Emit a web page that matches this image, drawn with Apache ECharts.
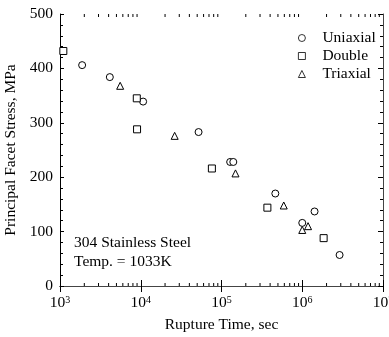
<!DOCTYPE html>
<html>
<head>
<meta charset="utf-8">
<script src="https://cdn.jsdelivr.net/npm/echarts@6/dist/echarts.min.js"></script>
<style>
  html, body { margin: 0; padding: 0; background: #fff; }
  #chart { width: 389px; height: 337px; }
</style>
</head>
<body>
<div id="chart"></div>
<script>
// rupture time (sec), principal facet stress (MPa)
var uniaxial = [[1880, 406], [4140, 384], [10700, 339], [52000, 283], [128000, 228], [140000, 228],
  [464000, 170], [1000000, 116], [1420000, 137], [2900000, 57]];
var doubleData = [[1100, 432], [8930, 345], [9000, 288], [76000, 216], [370000, 144], [1840000, 88]];
var triaxial = [[5560, 368], [26300, 276], [149000, 207], [590000, 148], [1180000, 110], [1000000, 103]];

var seriesNames = ['Uniaxial', 'Double', 'Triaxial'];
var symbols = ['circle', 'rect', 'triangle'];
var yTicks = [0, 100, 200, 300, 400, 500];

// minor ticks of the log axis: 2..9 x 10^k
var decades = [1000, 10000, 100000, 1000000];
var minorTicksX = [];
decades.forEach(function (d) {
  for (var m = 2; m <= 9; m++) minorTicksX.push([d * m, 0]);
});

var serif = "'Liberation Serif', 'Times New Roman', serif";

var chart = echarts.init(document.getElementById('chart'), null, { renderer: 'canvas' });

function logLabel(v) {
  var e = Math.round(Math.log10(v));
  return '{b|10}{s|' + e + '}';
}

var markSeries = [uniaxial, doubleData, triaxial].map(function (d, i) {
  return {
    name: seriesNames[i],
    type: 'scatter',
    data: d,
    symbol: symbols[i],
    symbolSize: 7,
    itemStyle: { color: '#fff', borderColor: '#000', borderWidth: 1, opacity: 1 },
    emphasis: { disabled: true },
    z: 5
  };
});

var option = {
  animation: false,
  backgroundColor: '#fff',
  textStyle: { fontFamily: serif, color: '#000' },
  grid: { left: 60, right: 6, top: 14, bottom: 51, outerBoundsMode: 'none', containLabel: false },
  legend: {
    data: seriesNames.map(function (n, i) {
      return { name: n, icon: symbols[i] };
    }),
    orient: 'vertical',
    left: 293,
    top: 25,
    itemWidth: 7,
    itemHeight: 7,
    itemGap: 2,
    selectedMode: false,
    itemStyle: { borderWidth: 0.8 },
    textStyle: { fontFamily: serif, fontSize: 15.5, color: '#000', padding: [0, 0, 0, 12] }
  },
  xAxis: [{
    type: 'log',
    logBase: 10,
    min: 1000,
    max: 10000000,
    name: 'Rupture Time, sec',
    nameLocation: 'middle',
    nameGap: 31,
    nameTextStyle: { fontFamily: serif, fontSize: 15.5, color: '#000' },
    axisLine: { lineStyle: { color: '#000', width: 1 } },
    axisTick: { inside: true, length: 6, lineStyle: { color: '#000' } },
    splitLine: { show: false },
    axisLabel: {
      formatter: logLabel,
      margin: 9,
      showMaxLabel: true,
      rich: {
        b: { fontFamily: serif, fontSize: 15.5, color: '#000' },
        s: { fontFamily: serif, fontSize: 10, color: '#000', verticalAlign: 'top' }
      }
    }
  }, {
    type: 'log',
    logBase: 10,
    min: 1000,
    max: 10000000,
    position: 'top',
    axisLine: { lineStyle: { color: '#444', width: 1 } },
    axisTick: { inside: true, length: 6, lineStyle: { color: '#000' } },
    axisLabel: { show: false },
    splitLine: { show: false }
  }],
  yAxis: [{
    type: 'value',
    min: 0,
    max: 500,
    interval: 100,
    name: 'Principal Facet Stress, MPa',
    nameLocation: 'middle',
    nameGap: 38,
    nameTextStyle: { fontFamily: serif, fontSize: 15.5, color: '#000' },
    axisLine: { show: true, lineStyle: { color: '#000', width: 1 } },
    axisTick: { inside: true, length: 4, lineStyle: { color: '#000' } },
    minorTick: { show: true, splitNumber: 5, length: 3, lineStyle: { color: '#000' } },
    splitLine: { show: false },
    axisLabel: {
      margin: 7,
      fontFamily: serif,
      fontSize: 15.5,
      color: '#000',
      customValues: yTicks
    }
  }, {
    type: 'value',
    min: 0,
    max: 500,
    interval: 100,
    position: 'right',
    axisLine: { show: true, lineStyle: { color: '#444', width: 1 } },
    axisTick: { inside: true, length: 5, lineStyle: { color: '#000' } },
    minorTick: { show: true, splitNumber: 5, length: 3, lineStyle: { color: '#000' } },
    axisLabel: { show: false },
    splitLine: { show: false }
  }],
  graphic: [{
    type: 'text',
    left: 74,
    top: 235,
    style: { text: '304 Stainless Steel', font: '15.5px ' + serif, fill: '#000' }
  }, {
    type: 'text',
    left: 74,
    top: 254,
    style: { text: 'Temp. = 1033K', font: '15.5px ' + serif, fill: '#000' }
  }],
  series: markSeries.concat([{
    name: 'minorTicks',
    type: 'custom',
    data: minorTicksX,
    silent: true,
    clip: false,
    renderItem: function (params, api) {
      var x = api.value(0);
      var b = api.coord([x, 0]);
      var t = api.coord([x, 500]);
      return {
        type: 'group',
        children: [
          { type: 'line', shape: { x1: b[0], y1: b[1], x2: b[0], y2: b[1] - 3 }, style: { stroke: '#000', lineWidth: 1 } },
          { type: 'line', shape: { x1: t[0], y1: t[1], x2: t[0], y2: t[1] + 3 }, style: { stroke: '#000', lineWidth: 1 } }
        ]
      };
    }
  }])
};

chart.setOption(option);
</script>
</body>
</html>
